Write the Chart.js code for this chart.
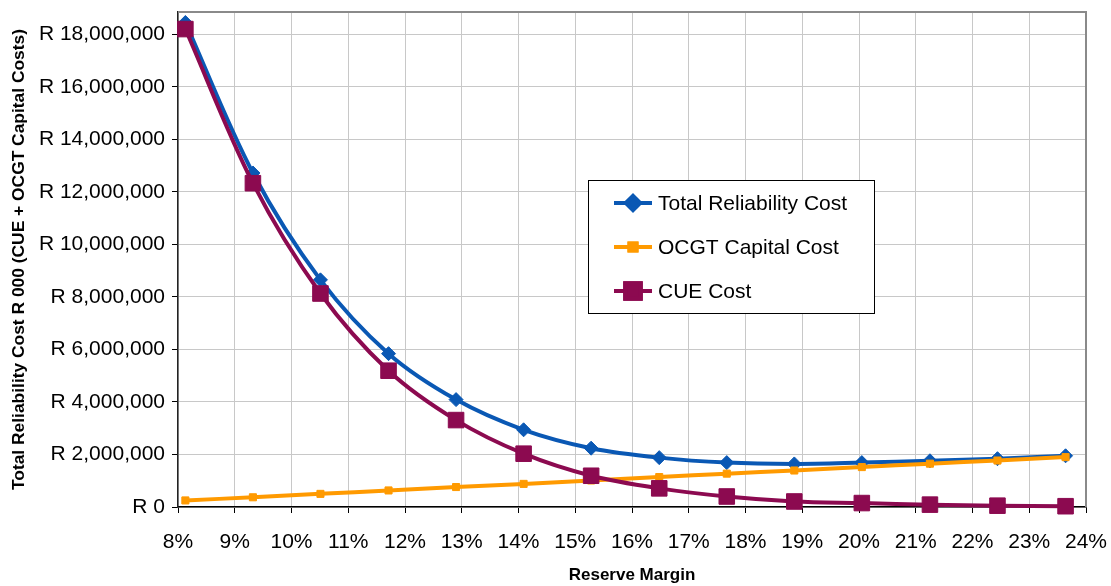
<!DOCTYPE html>
<html>
<head>
<meta charset="utf-8">
<script src="https://cdn.jsdelivr.net/npm/chart.js@4.4.1/dist/chart.umd.min.js"></script>
<style>
  html, body { margin: 0; padding: 0; background: #fff; }
  #wrap { width: 1111px; height: 586px; position: relative; }
</style>
</head>
<body>
<div id="wrap"><canvas id="chart" width="1111" height="586"></canvas></div>
<script>
// Reserve margin (%) for each scenario
const reserveMargin = [8.13, 9.32, 10.51, 11.71, 12.90, 14.09, 15.28, 16.48, 17.67, 18.86, 20.05, 21.25, 22.44, 23.64];
// Costs in R 000
const totalCost = [18450000, 12720000, 8650000, 5840000, 4090000, 2940000, 2240000, 1880000, 1690000, 1640000, 1690000, 1760000, 1840000, 1950000];
const ocgtCost  = [250000, 370000, 500000, 630000, 760000, 880000, 1010000, 1140000, 1270000, 1390000, 1520000, 1650000, 1770000, 1900000];
const cueCost   = [18200000, 12330000, 8130000, 5190000, 3310000, 2030000, 1190000, 710000, 400000, 210000, 150000, 90000, 50000, 30000];

const seriesNames = ['Total Reliability Cost', 'OCGT Capital Cost', 'CUE Cost'];
const xTickValues = [8, 9, 10, 11, 12, 13, 14, 15, 16, 17, 18, 19, 20, 21, 22, 23, 24];
const yTickValues = [0, 2000000, 4000000, 6000000, 8000000, 10000000, 12000000, 14000000, 16000000, 18000000];
const yMax = 18850000;

const FONT = '"Liberation Sans", Arial, sans-serif';
const BLUE = '#0A58B4', ORANGE = '#FF9A00', MAROON = '#8C0A50';

const pts = (ys) => reserveMargin.map((x, i) => ({ x, y: ys[i] }));

// Framed legend box inside the plot
const legendBox = {
  id: 'legendBox',
  afterDraw(chart) {
    const ctx = chart.ctx;
    const bx = 588.5, by = 180.5, bw = 286, bh = 133;
    ctx.save();
    ctx.fillStyle = '#fff';
    ctx.fillRect(bx, by, bw, bh);
    ctx.strokeStyle = '#000';
    ctx.lineWidth = 1;
    ctx.strokeRect(bx, by, bw, bh);
    const rows = [203, 247, 291];
    chart.data.datasets.forEach((ds, i) => {
      const y = rows[i];
      ctx.strokeStyle = ds.borderColor;
      ctx.lineWidth = ds.borderWidth;
      ctx.beginPath();
      ctx.moveTo(614, y);
      ctx.lineTo(652, y);
      ctx.stroke();
      Chart.helpers.drawPoint(ctx, {
        pointStyle: ds.pointStyle, radius: ds.pointRadius, borderWidth: 1
      }, 633, y);
      ctx.fillStyle = ds.pointBackgroundColor;
      ctx.strokeStyle = ds.pointBorderColor;
      ctx.fill();
      ctx.stroke();
      ctx.fillStyle = '#000';
      ctx.font = '21px ' + FONT;
      ctx.textBaseline = 'middle';
      ctx.textAlign = 'left';
      ctx.fillText(ds.label, 658, y + 1);
    });
    ctx.restore();
  }
};

// Grey frame on the top and right of the plot area
const plotFrame = {
  id: 'plotFrame',
  beforeDatasetsDraw(chart) {
    const { left, right, top, bottom } = chart.chartArea;
    const ctx = chart.ctx;
    ctx.save();
    ctx.strokeStyle = '#8a8a8a';
    ctx.lineWidth = 2;
    ctx.beginPath();
    ctx.moveTo(left, top);
    ctx.lineTo(right, top);
    ctx.lineTo(right, bottom);
    ctx.stroke();
    ctx.restore();
  }
};

new Chart(document.getElementById('chart'), {
  type: 'line',
  data: {
    datasets: [
      {
        label: seriesNames[0], data: pts(totalCost), order: 2,
        borderColor: BLUE, backgroundColor: BLUE, borderWidth: 4,
        pointStyle: 'rectRot', pointRadius: 7, pointBackgroundColor: BLUE, pointBorderColor: BLUE, pointBorderWidth: 1
      },
      {
        label: seriesNames[1], data: pts(ocgtCost), order: 1,
        borderColor: ORANGE, backgroundColor: ORANGE, borderWidth: 4,
        pointStyle: 'rect', pointRadius: 5, pointBackgroundColor: ORANGE, pointBorderColor: ORANGE, pointBorderWidth: 1
      },
      {
        label: seriesNames[2], data: pts(cueCost), order: 0,
        borderColor: MAROON, backgroundColor: MAROON, borderWidth: 4,
        pointStyle: 'rect', pointRadius: 11, pointBackgroundColor: MAROON, pointBorderColor: MAROON, pointBorderWidth: 1
      }
    ]
  },
  options: {
    responsive: false,
    animation: false,
    events: [],
    clip: false,
    elements: { line: { tension: 0.33 } },
    layout: { padding: { left: 0, top: 0, right: 25, bottom: 0 } },
    plugins: { legend: { display: false }, tooltip: { enabled: false } },
    scales: {
      x: {
        type: 'linear',
        min: xTickValues[0], max: xTickValues[xTickValues.length - 1],
        afterFit(s) { s.height = 79; s.paddingLeft = 0; s.paddingRight = 0; },
        afterBuildTicks(s) { s.ticks = xTickValues.map(v => ({ value: v })); },
        grid: { color: '#c8c8c8', lineWidth: 1, tickColor: '#000', tickLength: 6 },
        border: { color: '#000', width: 1.5 },
        ticks: {
          padding: 17, color: '#000',
          font: { family: FONT, size: 21 },
          callback: (v) => v + '%'
        },
        title: {
          display: true, text: 'Reserve Margin', color: '#000',
          font: { family: FONT, size: 17, weight: 'bold' },
          padding: { top: 0, bottom: 0 }
        }
      },
      y: {
        min: yTickValues[0], max: yMax,
        afterFit(s) { s.width = 178; s.paddingTop = 0; s.paddingBottom = 0; },
        afterBuildTicks(s) { s.ticks = yTickValues.map(v => ({ value: v })); },
        grid: { color: '#c8c8c8', lineWidth: 1, tickColor: '#000', tickLength: 6 },
        border: { color: '#222', width: 1.5 },
        ticks: {
          padding: 7, color: '#000',
          font: { family: FONT, size: 21, lineHeight: 0.8 },
          callback: (v) => 'R ' + Number(v).toLocaleString('en-US')
        },
        title: {
          display: true, text: 'Total Reliability Cost R 000 (CUE + OCGT Capital Costs)', color: '#000',
          font: { family: FONT, size: 17.4, weight: 'bold' },
          padding: { top: 9, bottom: 0 }
        }
      }
    }
  },
  plugins: [plotFrame, legendBox]
});
</script>
</body>
</html>
